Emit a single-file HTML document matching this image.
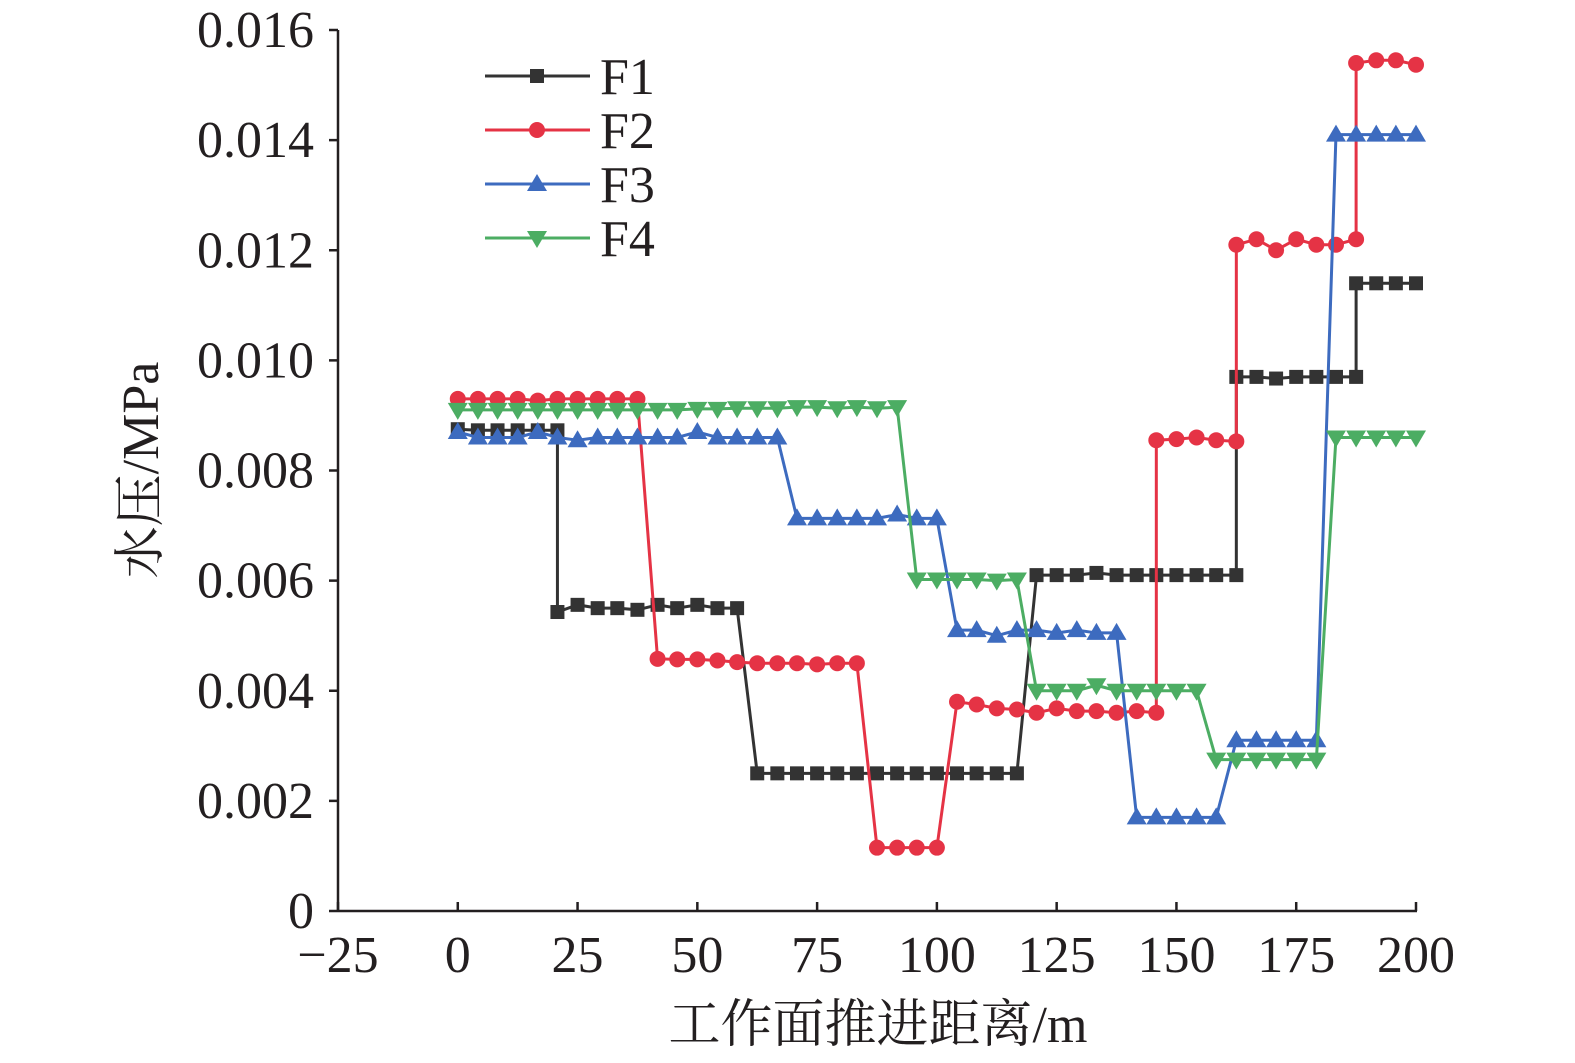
<!DOCTYPE html>
<html><head><meta charset="utf-8"><style>
body{margin:0;background:#fff;}
svg{display:block;}
.t{font-family:"Liberation Serif","Noto Serif CJK SC",serif;font-size:52px;fill:#231f20;}
.ti{font-family:"Liberation Serif","Noto Serif CJK SC",serif;font-size:52px;fill:#231f20;}
</style></head><body>
<svg id="chart" width="1575" height="1063" xmlns="http://www.w3.org/2000/svg">
<g id="plot"></g>
</svg>
<script>
const xTicks=[-25,0,25,50,75,100,125,150,175,200];
const yTicks=[0,0.002,0.004,0.006,0.008,0.010,0.012,0.014,0.016];
const yTickLabels=["0","0.002","0.004","0.006","0.008","0.010","0.012","0.014","0.016"];
const seriesNames=["F1","F2","F3","F4"];
const f1x=[0,4.2,8.3,12.5,16.7,20.8,20.8,25,29.2,33.3,37.5,41.7,45.8,50,54.2,58.3,62.5,66.7,70.8,75,79.2,83.3,87.5,91.7,95.8,100,104.2,108.3,112.5,116.7,120.8,125,129.2,133.3,137.5,141.7,145.8,150,154.2,158.3,162.5,162.5,166.7,170.8,175,179.2,183.3,187.5,187.5,191.7,195.8,200];
const f1y=[0.00875,0.00873,0.00873,0.00873,0.00873,0.00873,0.00543,0.00556,0.0055,0.0055,0.00547,0.00556,0.0055,0.00556,0.0055,0.0055,0.0025,0.0025,0.0025,0.0025,0.0025,0.0025,0.0025,0.0025,0.0025,0.0025,0.0025,0.0025,0.0025,0.0025,0.0061,0.0061,0.0061,0.00614,0.0061,0.0061,0.0061,0.0061,0.0061,0.0061,0.0061,0.0097,0.0097,0.00967,0.0097,0.0097,0.0097,0.0097,0.0114,0.0114,0.0114,0.0114];
const f2x=[0,4.2,8.3,12.5,16.7,20.8,25,29.2,33.3,37.5,41.7,45.8,50,54.2,58.3,62.5,66.7,70.8,75,79.2,83.3,87.5,91.7,95.8,100,104.2,108.3,112.5,116.7,120.8,125,129.2,133.3,137.5,141.7,145.8,145.8,150,154.2,158.3,162.5,162.5,166.7,170.8,175,179.2,183.3,187.5,187.5,191.7,195.8,200];
const f2y=[0.0093,0.0093,0.0093,0.0093,0.00927,0.0093,0.0093,0.0093,0.0093,0.0093,0.00458,0.00457,0.00457,0.00455,0.00452,0.0045,0.0045,0.0045,0.00448,0.0045,0.0045,0.00115,0.00115,0.00115,0.00115,0.0038,0.00375,0.00368,0.00366,0.0036,0.00368,0.00363,0.00363,0.0036,0.00363,0.0036,0.00855,0.00857,0.0086,0.00855,0.00853,0.0121,0.0122,0.0120,0.0122,0.0121,0.0121,0.0122,0.0154,0.01545,0.01545,0.01537];
const f3x=[0,4.2,8.3,12.5,16.7,20.8,25,29.2,33.3,37.5,41.7,45.8,50,54.2,58.3,62.5,66.7,70.8,75,79.2,83.3,87.5,91.7,95.8,100,104.2,108.3,112.5,116.7,120.8,125,129.2,133.3,137.5,141.7,145.8,150,154.2,158.3,162.5,166.7,170.8,175,179.2,183.3,187.5,191.7,195.8,200];
const f3y=[0.0087,0.0086,0.0086,0.0086,0.0087,0.0086,0.00855,0.0086,0.0086,0.0086,0.0086,0.0086,0.0087,0.0086,0.0086,0.0086,0.0086,0.00713,0.00713,0.00713,0.00713,0.00713,0.0072,0.00713,0.00713,0.0051,0.0051,0.0050,0.0051,0.0051,0.00505,0.0051,0.00505,0.00505,0.0017,0.0017,0.0017,0.0017,0.0017,0.0031,0.0031,0.0031,0.0031,0.0031,0.0141,0.0141,0.0141,0.0141,0.0141];
const f4x=[0,4.2,8.3,12.5,16.7,20.8,25,29.2,33.3,37.5,41.7,45.8,50,54.2,58.3,62.5,66.7,70.8,75,79.2,83.3,87.5,91.7,95.8,100,104.2,108.3,112.5,116.7,120.8,125,129.2,133.3,137.5,141.7,145.8,150,154.2,158.3,162.5,166.7,170.8,175,179.2,183.3,187.5,191.7,195.8,200];
const f4y=[0.0091,0.0091,0.0091,0.0091,0.0091,0.0091,0.0091,0.0091,0.0091,0.0091,0.0091,0.0091,0.00912,0.00912,0.00913,0.00913,0.00913,0.00915,0.00915,0.00913,0.00915,0.00913,0.00915,0.00602,0.00602,0.00602,0.00602,0.006,0.00602,0.0040,0.0040,0.0040,0.0041,0.0040,0.0040,0.0040,0.0040,0.0040,0.00275,0.00275,0.00275,0.00275,0.00275,0.00275,0.0086,0.0086,0.0086,0.0086,0.0086];

const NS="http://www.w3.org/2000/svg";
const X0=338,X1=1416,Y0=911,Y1=30;
function xs(v){return X0+(v+25)/225*(X1-X0);}
function ys(v){return Y0-v/0.016*(Y0-Y1);}
const g=document.getElementById('plot');
function mk(tag,attrs,parent){const e=document.createElementNS(NS,tag);for(const k in attrs)e.setAttribute(k,attrs[k]);(parent||g).appendChild(e);return e;}

const ax=mk('g',{});


mk('line',{x1:X0,y1:Y1,x2:X0,y2:Y0,stroke:'#231f20','stroke-width':2.5},ax);
mk('line',{x1:X0,y1:Y0,x2:X1+1,y2:Y0,stroke:'#231f20','stroke-width':2.5},ax);
yTicks.forEach((v,i)=>{
  const y=ys(v);
  mk('line',{x1:X0-9,y1:y,x2:X0,y2:y,stroke:'#231f20','stroke-width':2.5},ax);
  const t=mk('text',{x:314,y:y+17,'text-anchor':'end',class:'t'},ax);
  t.textContent=yTickLabels[i];
  
  
});
xTicks.forEach(v=>{
  const x=xs(v);
  mk('line',{x1:x,y1:Y0-9,x2:x,y2:Y0,stroke:'#231f20','stroke-width':2.5},ax);
  const t=mk('text',{x:x,y:972,'text-anchor':'middle',class:'t'},ax);
  t.textContent=v<0?'\u2212'+Math.abs(v):String(v);
  
  
});
const xt=mk('text',{x:878,y:1042,'text-anchor':'middle',class:'ti'});
xt.textContent='工作面推进距离/m';


const yt=mk('text',{x:0,y:0,'text-anchor':'middle',class:'ti',transform:'translate(158,470) rotate(-90)'});
yt.textContent='水压/MPa';



const colors=['#333333','#e53345','#3d6bbf','#4cad63'];
const shapes=['square','circle','up','down'];
function marker(p,shape,x,y,c){
  if(shape==='square') mk('rect',{x:x-7,y:y-7,width:14,height:14,fill:c},p);
  else if(shape==='circle') mk('circle',{cx:x,cy:y,r:8,fill:c},p);
  else if(shape==='up') mk('polygon',{points:`${x},${y-10} ${x-10},${y+7} ${x+10},${y+7}`,fill:c},p);
  else mk('polygon',{points:`${x},${y+10} ${x-10},${y-7} ${x+10},${y-7}`,fill:c},p);
}
const data=[[f1x,f1y],[f2x,f2y],[f3x,f3y],[f4x,f4y]];
data.forEach((d,si)=>{
  const s=mk('g',{});
  
  
  const pts=d[0].map((v,i)=>xs(v)+','+ys(d[1][i])).join(' ');
  mk('polyline',{points:pts,fill:'none',stroke:colors[si],'stroke-width':3},s);
  d[0].forEach((v,i)=>marker(s,shapes[si],xs(v),ys(d[1][i]),colors[si]));
});
const lg=mk('g',{});


seriesNames.forEach((n,i)=>{
  const y=76+i*54;
  const e=mk('g',{},lg);
  
  
  mk('line',{x1:485,y1:y,x2:590,y2:y,stroke:colors[i],'stroke-width':3},e);
  marker(e,shapes[i],537,y,colors[i]);
  const t=mk('text',{x:600,y:y+18,class:'t'},e);
  t.textContent=n;
});
</script>
</body></html>
